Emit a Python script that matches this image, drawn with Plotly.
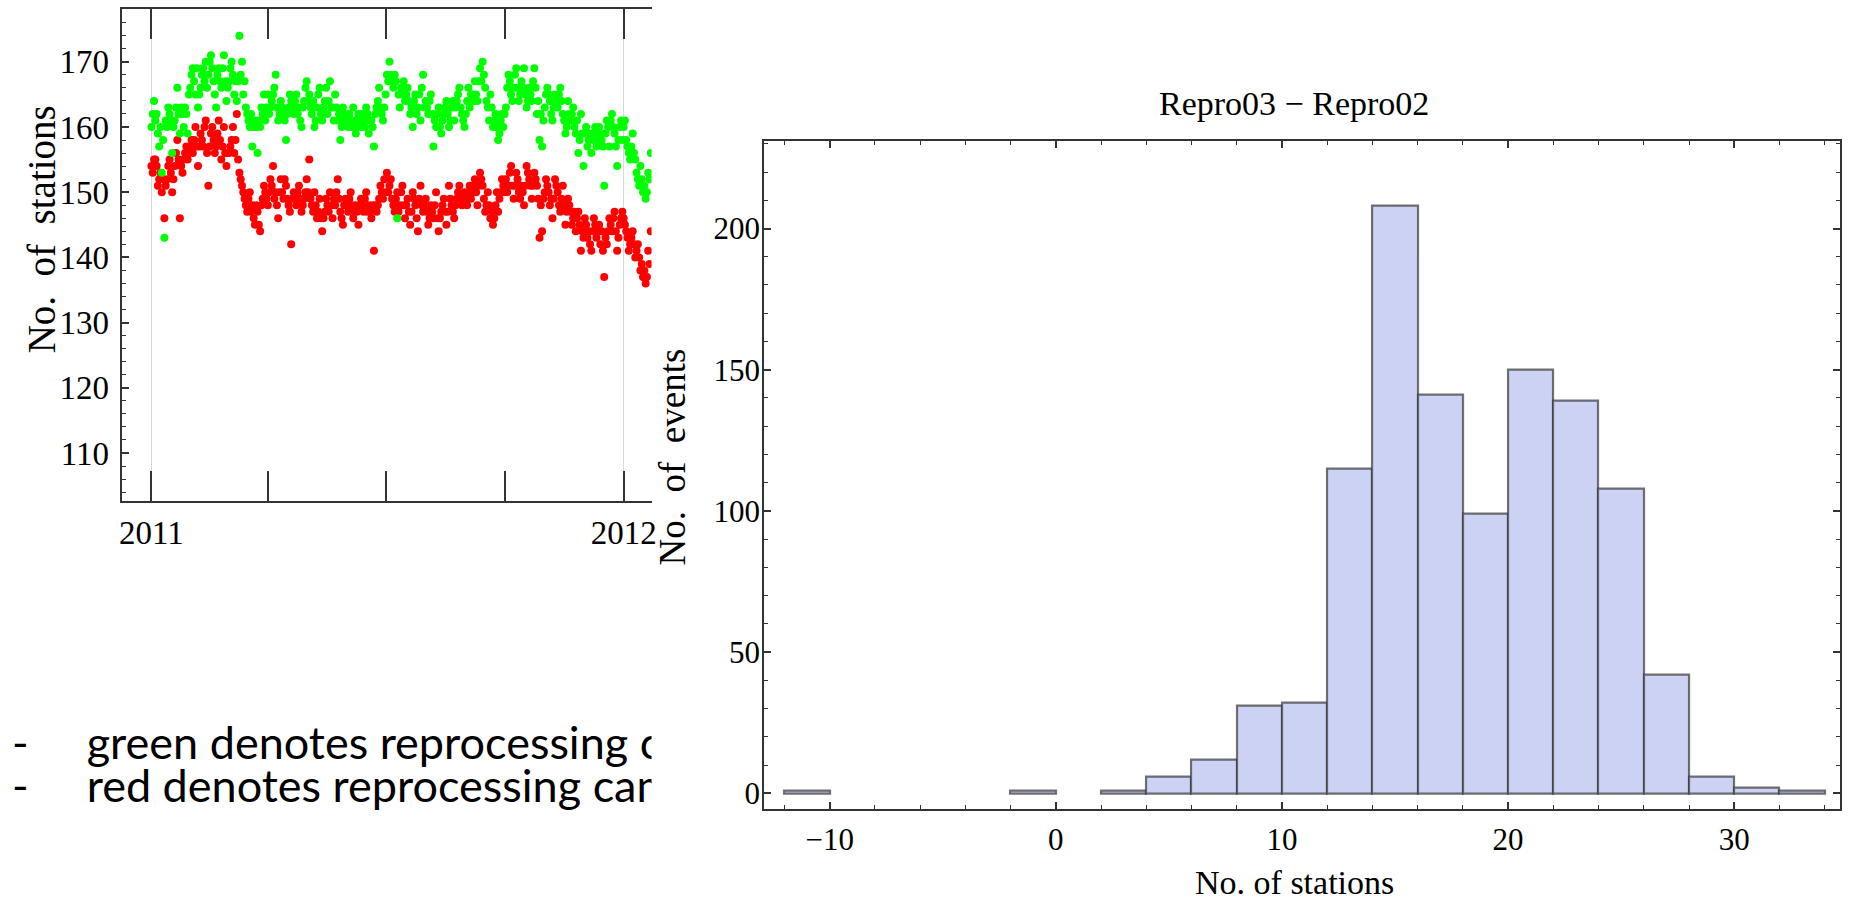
import pandas as pd
import plotly.graph_objects as go

W, H = 1861, 909

# ---------------- data: daily station counts ----------------
start_date = "2011-01-01"
sample_step = "D"

green_stations = [
    160, 162, 164, 161, 162, 159, 157, 160, 153, 158, 143, 161, 160, 163, 162, 161,
    156, 160, 161, 163, 166, 162, 159, 163, 162, 160, 163, 162, 159, 165, 166,
    168,
    169, 167, 165, 169, 163, 165, 166, 168, 169, 167, 170, 166, 168, 170, 171, 169,
    167, 165, 163, 168, 169, 167, 166, 169, 171, 167, 164,
    166,
    167, 169, 170, 168, 165, 167, 164, 167, 174, 168, 170, 165, 167, 163, 162, 161,
    160, 162, 157, 160, 161, 160, 156, 161, 160, 163, 162, 165, 161,
    163,
    165, 162, 163, 164, 165, 166, 168, 163, 161, 162, 164, 163, 162, 161, 158, 162,
    163, 165, 164, 163, 162, 164, 165, 162, 163, 161, 160, 163, 164,
    166,
    167, 164, 165, 163, 162, 164, 160, 161, 163, 165, 166, 162, 161, 163, 164, 166,
    162, 164, 167, 163, 163, 161, 165, 163, 161, 162, 158, 160, 163, 161, 162,
    161,
    160, 162, 161, 160, 163, 161, 159, 160, 162, 161, 160, 162, 161, 160, 163, 162,
    159, 161, 161, 160, 157, 162, 163, 164, 166, 163, 162, 161, 163,
    165,
    168, 167, 170, 168, 167, 166, 168, 167, 146, 165, 163, 166, 165, 167, 164, 165,
    166, 164, 162, 163, 160, 164, 165, 162, 163, 165, 161, 166, 168,
    163,
    164, 163, 162, 164, 165, 162, 157, 161, 160, 162, 163, 160, 159, 161, 162, 163,
    164, 162, 160, 161, 163, 164, 161, 163, 164, 165, 166, 163, 162, 161, 160,
    162,
    164, 166, 163, 165, 165, 164, 167, 165, 164, 167, 169, 167, 170, 168, 166, 164,
    163, 161, 165, 163, 160, 161, 162, 160, 158, 159, 161, 162, 160,
    162,
    163, 166, 168, 167, 165, 164, 166, 168, 169, 166, 164, 165, 167, 166, 169, 165,
    163, 164, 166, 165, 164, 167, 169, 166, 162, 164, 158, 162, 157, 161, 163,
    165,
    166, 165, 164, 162, 161, 163, 165, 164, 163, 165, 166, 164, 162, 161, 159, 160,
    164, 162, 161, 162, 163, 160, 159, 161, 156, 158, 162, 159, 154,
    159,
    160, 157, 158, 159, 156, 158, 159, 160, 157, 158, 160, 159, 158, 157, 151, 159,
    161, 160, 157, 161, 162, 160, 159, 157, 154, 158, 160, 161, 158,
    160,
    161, 158, 157, 156, 155, 157, 159, 156, 155, 153, 152, 151, 154, 152, 150, 151,
    149, 150, 153, 152, 156,
]

red_stations = [
    154, 153, 155, 155, 154, 151, 152, 153, 150, 152, 146, 151, 152, 154, 155, 153,
    150, 152, 154, 156, 158, 155, 146, 154, 153, 155, 156, 157, 155, 156, 157,
    158,
    156, 158, 160, 157, 154, 157, 159, 158, 157, 160, 161, 156, 151, 157, 159, 160,
    158, 156, 157, 159, 161, 158, 155, 157, 160, 156, 154,
    156,
    156, 157, 158, 160, 156, 158, 162, 155, 153, 152, 151, 150, 149, 148, 147, 149,
    150, 147, 148, 146, 145, 148, 147, 145, 144, 148, 149, 151, 150,
    149,
    148, 150, 152, 151, 154, 149, 150, 148, 146, 150, 152, 150, 149, 152, 151, 149,
    148, 147, 142, 149, 150, 149, 148, 150, 151, 149, 147, 148, 149,
    150,
    152, 150, 155, 149, 148, 147, 150, 148, 146, 147, 149, 146, 144, 146, 147, 149,
    148, 147, 150, 148, 146, 149, 148, 150, 152, 149, 147, 146, 145, 148, 149,
    148,
    147, 149, 150, 148, 146, 147, 148, 147, 145, 148, 149, 148, 147, 149, 150, 147,
    148, 147, 146, 148, 141, 148, 147, 148, 149, 151, 150, 149, 152,
    150,
    153, 150, 151, 152, 149, 148, 147, 149, 150, 147, 148, 150, 151, 148, 146, 148,
    149, 147, 145, 147, 150, 149, 148, 146, 144, 149, 151, 148, 147,
    148,
    149, 147, 145, 146, 148, 147, 146, 148, 150, 146, 144, 146, 147, 148, 149, 147,
    145, 147, 151, 149, 148, 147, 146, 148, 149, 150, 151, 149, 148, 149, 150,
    149,
    148, 150, 151, 149, 150, 151, 152, 150, 148, 151, 153, 152, 151, 149, 147, 148,
    150, 148, 146, 147, 145, 146, 148, 150, 147, 149, 150, 152, 151,
    150,
    152, 150, 151, 153, 154, 151, 149, 151, 153, 152, 150, 149, 151, 150, 148, 151,
    154, 153, 152, 151, 149, 151, 153, 152, 151, 149, 143, 148, 144, 149, 150,
    152,
    151, 150, 148, 149, 146, 149, 152, 151, 150, 148, 147, 149, 151, 148, 145, 147,
    149, 148, 147, 145, 146, 147, 144, 146, 147, 145, 141, 144, 143,
    146,
    145, 143, 144, 142, 141, 144, 146, 145, 143, 144, 145, 142, 144, 141, 137, 143,
    142, 144, 146, 145, 144, 146, 147, 144, 141, 143, 145, 146, 147,
    146,
    145, 144, 143, 141, 142, 143, 144, 142, 140, 141, 142, 140, 138, 139, 137, 138,
    136, 137, 141, 139, 144,
]

# ---------------- data: histogram of Repro03 - Repro02 ----------------
hist_bin_starts = [-12, -2, 2, 4, 6, 8, 10, 12, 14, 16, 18, 20, 22, 24, 26, 28, 30, 32]
hist_counts = [1, 1, 1, 6, 12, 31, 32, 115, 208, 141, 99, 150, 139, 108, 42, 6, 2, 1]
hist_bin_width = 2

hist_title = "Repro03 \u2212 Repro02"
hist_xlabel = "No. of stations"
hist_ylabel = "No.\u00a0\u00a0of\u00a0\u00a0events"
scatter_ylabel = "No.\u00a0\u00a0of\u00a0\u00a0stations"
bullet_lines = [
    "green denotes reprocessing campaign 03",
    "red denotes reprocessing campaign 02",
]

# ---------------- helpers ----------------
def dx(a, b):
    return [a / W, b / W]


def dy(top, bottom):
    return [1 - bottom / H, 1 - top / H]


dates = pd.date_range(start_date, periods=len(green_stations), freq=sample_step)
hist_centers = [s + hist_bin_width / 2 for s in hist_bin_starts]

SERIF = "Liberation Serif"
AX = "#333333"

fig = go.Figure()

fig.add_trace(go.Scatter(
    x=dates, y=red_stations, mode="markers",
    marker=dict(color="#ff0000", size=8, line=dict(width=0)),
    xaxis="x", yaxis="y", cliponaxis=True, showlegend=False,
))
fig.add_trace(go.Scatter(
    x=dates, y=green_stations, mode="markers",
    marker=dict(color="#00ff00", size=8, line=dict(width=0)),
    xaxis="x", yaxis="y", cliponaxis=True, showlegend=False,
))

fig.add_trace(go.Bar(
    x=hist_centers, y=hist_counts, width=hist_bin_width,
    marker=dict(color="#ccd2f4", line=dict(color="rgba(55,55,55,0.7)", width=2.2)),
    xaxis="x3", yaxis="y3", showlegend=False,
))

# bullet text (clipped by its own subplot, as the histogram image covers it)
fig.add_trace(go.Scatter(
    x=[10, 85, 10, 85], y=[749, 749, 793, 793],
    text=["-", bullet_lines[0], "-", bullet_lines[1]],
    mode="text", textposition="middle right",
    textfont=dict(family="Lato", size=45, color="black"),
    xaxis="x4", yaxis="y4", cliponaxis=True, showlegend=False,
))

tick_common = dict(ticks="inside", tickcolor=AX, showline=True, linecolor=AX,
                   linewidth=2, zeroline=False)

fig.update_layout(
    width=W, height=H,
    margin=dict(l=0, r=0, t=0, b=0),
    paper_bgcolor="white", plot_bgcolor="white",
    bargap=0,
    xaxis=dict(
        domain=dx(120, 652), anchor="y", type="date",
        range=["2010-12-08 21:30", "2012-01-22 14:00"],
        mirror="allticks", ticklen=30, tickwidth=1.5,
        dtick="M12", tick0="2011-01-01", tickformat="%Y",
        showgrid=True, gridcolor="#d8d8d8", gridwidth=1,
        minor=dict(dtick="M3", tick0="2011-01-01", ticks="inside", ticklen=30,
                   tickwidth=1.5, tickcolor=AX, showgrid=False),
        tickfont=dict(family=SERIF, size=33, color="black"),
        ticklabelstandoff=2,
        **tick_common,
    ),
    yaxis=dict(
        domain=dy(9, 502), anchor="x", range=[102.65, 178.1],
        ticklen=7, tickwidth=1.5, dtick=10, tick0=0,
        minor=dict(dtick=2, ticks="inside", ticklen=4, tickwidth=1, tickcolor=AX),
        showgrid=False,
        tickfont=dict(family=SERIF, size=33, color="black"),
        ticklabelstandoff=4,
        **tick_common,
    ),
    xaxis2=dict(
        domain=dx(652, 1600), anchor="y2", type="date", side="top",
        range=["2012-01-22 14:00", "2014-01-21 19:00"],
        ticklen=30, tickwidth=1.5, dtick="M12", tick0="2011-01-01",
        showticklabels=False, showgrid=True, gridcolor="#d8d8d8", gridwidth=1,
        minor=dict(dtick="M3", tick0="2011-01-01", ticks="inside", ticklen=30,
                   tickwidth=1.5, tickcolor=AX, showgrid=False),
        **tick_common,
    ),
    yaxis2=dict(
        domain=dy(9, 83), anchor="x2", side="right", range=[166.77, 178.1],
        ticklen=7, tickwidth=1.5, dtick=10, tick0=0,
        minor=dict(dtick=2, ticks="inside", ticklen=4, tickwidth=1, tickcolor=AX),
        showticklabels=False, showgrid=False,
        **tick_common,
    ),
    xaxis3=dict(
        domain=dx(765, 1845), anchor="y3", range=[-12.9, 34.68],
        mirror="allticks", ticklen=7, tickwidth=1.5, dtick=10, tick0=0,
        minor=dict(dtick=2, ticks="inside", ticklen=4, tickwidth=1, tickcolor=AX),
        showgrid=False,
        tickfont=dict(family=SERIF, size=31, color="black"),
        ticklabelstandoff=2,
        **tick_common,
    ),
    yaxis3=dict(
        domain=dy(141, 811), anchor="x3", range=[-5.65, 231.1],
        mirror="allticks", ticklen=7, tickwidth=1.5, dtick=50, tick0=0,
        minor=dict(dtick=10, ticks="inside", ticklen=4, tickwidth=1, tickcolor=AX),
        showgrid=False,
        tickfont=dict(family=SERIF, size=31, color="black"),
        ticklabelstandoff=-4,
        **tick_common,
    ),
    xaxis4=dict(domain=dx(0, 652), anchor="y4", range=[0, 652], visible=False),
    yaxis4=dict(domain=dy(690, 830), anchor="x4", range=[830, 690], visible=False),
    annotations=[
        dict(text=hist_title, x=1297 / W, y=1 - 104 / H, xref="paper", yref="paper",
             showarrow=False, font=dict(family=SERIF, size=34, color="black"),
             xanchor="center", yanchor="middle"),
        dict(text=hist_xlabel, x=1297 / W, y=1 - 884 / H, xref="paper", yref="paper",
             showarrow=False, font=dict(family=SERIF, size=34, color="black"),
             xanchor="center", yanchor="middle"),
        dict(text=hist_ylabel, x=674 / W, y=1 - 458 / H, xref="paper", yref="paper",
             showarrow=False, textangle=-90, font=dict(family=SERIF, size=37, color="black"),
             xanchor="center", yanchor="middle"),
        dict(text=scatter_ylabel, x=40 / W, y=1 - 230 / H, xref="paper", yref="paper",
             showarrow=False, textangle=-90, font=dict(family=SERIF, size=39, color="black"),
             xanchor="center", yanchor="middle"),
    ],
)

fig.write_html("out.html")
